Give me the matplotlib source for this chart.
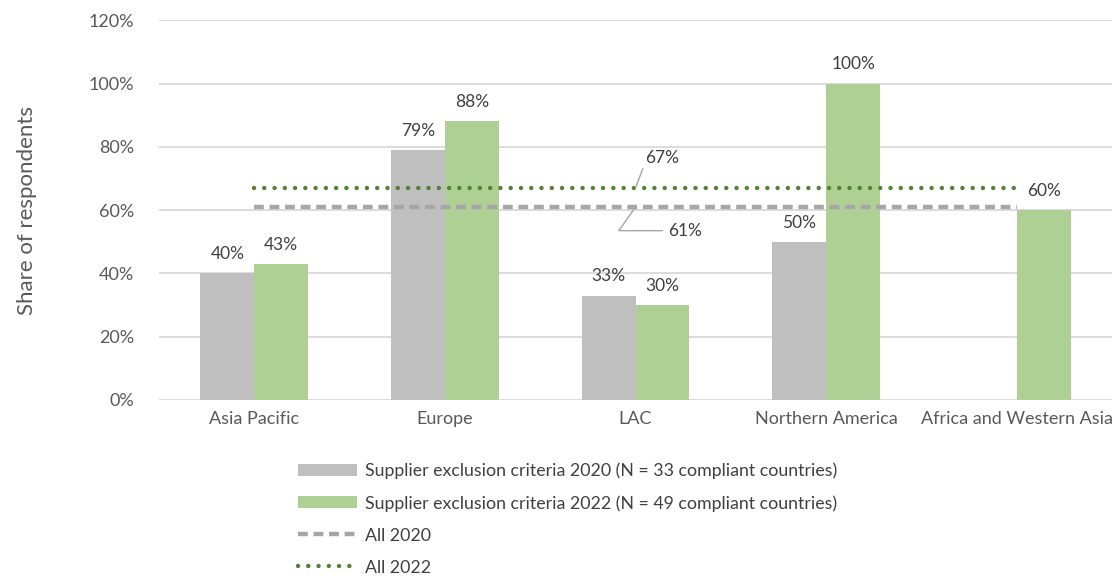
import numpy as np
import matplotlib.pyplot as plt
from matplotlib.ticker import PercentFormatter

plt.rcParams['font.family'] = ['Lato', 'DejaVu Sans']

regions = ['Asia Pacific', 'Europe', 'LAC', 'Northern America', 'Africa and Western Asia']
crit_2020 = [40, 79, 33, 50, np.nan]
crit_2022 = [43, 88, 30, 100, 60]
all_2020 = 61
all_2022 = 67

c_grey = '#bfbfbf'
c_green = '#afd095'
c_line_grey = '#a6a6a6'
c_line_green = '#548235'
c_text = '#404040'

fig = plt.figure(figsize=(11.12, 5.78), dpi=100)
ax = fig.add_axes([0.143, 0.308, 0.857, 0.657])

x = np.arange(len(regions))
w = 0.283
b1 = ax.bar(x - w / 2, crit_2020, w, color=c_grey, zorder=2,
            label='Supplier exclusion criteria 2020 (N = 33 compliant countries)')
b2 = ax.bar(x + w / 2, crit_2022, w, color=c_green, zorder=2,
            label='Supplier exclusion criteria 2022 (N = 49 compliant countries)')

# bar labels
for xs, vals in [(x - w / 2, crit_2020), (x + w / 2, crit_2022)]:
    for xi, v in zip(xs, vals):
        if np.isnan(v):
            continue
        ax.text(xi, v + 3.5, f'{v:.0f}%', ha='center', va='bottom', fontsize=12.5, color=c_text)

# overall averages
l1, = ax.plot([x[0], x[-1]], [all_2020, all_2020], color=c_line_grey, lw=3.2,
              dashes=(2.2, 1.3), zorder=3, label='All 2020')
l2, = ax.plot([x[0], x[-1]], [all_2022, all_2022], color=c_line_green, lw=3.2,
              linestyle=(0, (0.01, 2.3)), dash_capstyle='round', zorder=3, label='All 2022')

ax.annotate(f'{all_2022}%', xy=(2.0, all_2022), xytext=(2.05, 76.5),
            fontsize=12.5, color=c_text, ha='left', va='center',
            arrowprops=dict(arrowstyle='-', color=c_line_grey, lw=1, shrinkA=0, shrinkB=0,
                            relpos=(0, 0.2)))
ax.annotate(f'{all_2020}%', xy=(2.0, all_2020), xytext=(2.17, 53.5),
            fontsize=12.5, color=c_text, ha='left', va='center',
            arrowprops=dict(arrowstyle='-', color=c_line_grey, lw=1, shrinkA=2, shrinkB=0,
                            connectionstyle='angle,angleA=0,angleB=55,rad=0'))

ax.set_xlim(-0.5, 4.5)
ax.set_ylim(0, 120)
ax.set_yticks(np.arange(0, 121, 20))
ax.yaxis.set_major_formatter(PercentFormatter(decimals=0))
ax.set_xticks(x)
ax.set_xticklabels(regions)
ax.tick_params(axis='both', length=0, labelsize=13, colors='#595959', pad=8)
ax.tick_params(axis='y', pad=18)
ax.grid(axis='y', color='#d9d9d9', lw=1.3, zorder=0)
for s in ax.spines.values():
    s.set_visible(False)
ax.set_ylabel('Share of respondents', fontsize=16, color='#595959')
ax.yaxis.set_label_coords(-0.128, 0.5)

fig.legend(handles=[b1, b2, l1, l2], loc='upper left', bbox_to_anchor=(0.268, 0.2),
           frameon=False, fontsize=12.8, labelcolor=c_text, handlelength=3.3,
           handleheight=0.65, handletextpad=0.45, labelspacing=0.9, borderpad=0,
           borderaxespad=0)

fig.savefig('out.png', dpi=100)
